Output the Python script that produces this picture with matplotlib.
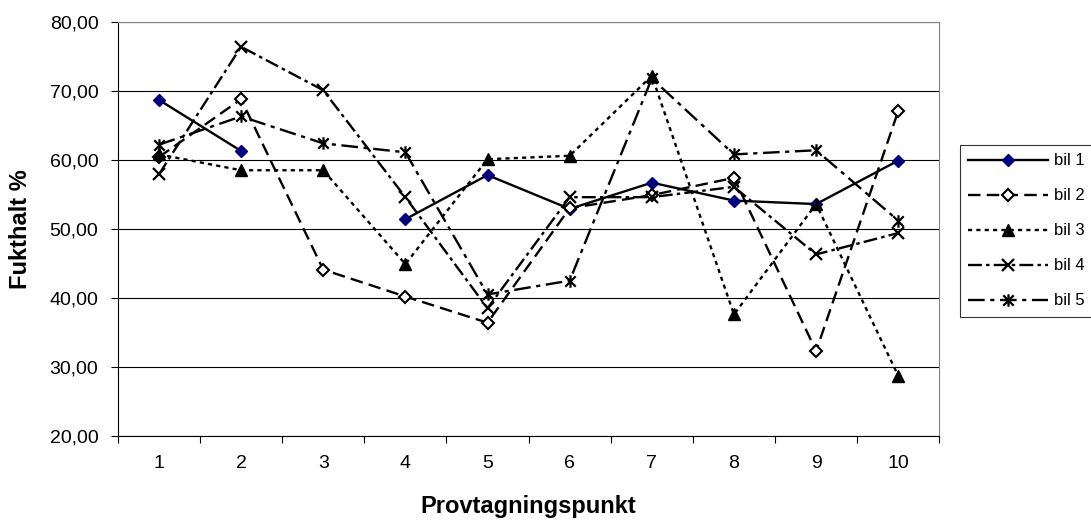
import numpy as np
import matplotlib.pyplot as plt
from matplotlib.path import Path
from matplotlib.ticker import FuncFormatter, MultipleLocator

plt.rcParams['font.family'] = ['Liberation Sans', 'DejaVu Sans']
plt.rcParams['lines.scale_dashes'] = False

# Fukthalt per provtagningspunkt och bil
punkter = np.arange(1, 11)
bil1 = [68.7, 61.3, np.nan, 51.4, 57.8, 52.9, 56.7, 54.1, 53.6, 59.9]
bil2 = [60.4, 68.8, 44.1, 40.2, 36.4, 53.0, 54.9, 57.4, 32.3, 67.1]
bil3 = [60.8, 58.5, 58.5, 44.9, 60.1, 60.6, 72.2, 37.6, 53.6, 28.7]
bil4 = [57.9, 76.4, 70.1, 54.6, 38.5, 54.6, 54.6, 56.1, 46.3, 49.4]
bil5 = [62.2, 66.3, 62.4, 61.1, 40.5, 42.5, 71.8, 60.8, 61.4, 51.2]
namn = ["bil 1", "bil 2", "bil 3", "bil 4", "bil 5"]

# Excel-style star: an X with a vertical bar through it
stjarna = Path([(-1, -1), (1, 1), (-1, 1), (1, -1), (0, -1.2), (0, 1.2)],
               [Path.MOVETO, Path.LINETO] * 3)

stilar = [
    dict(ls='-', marker='D', ms=6.5, mfc='#000080', mec='#000080'),
    dict(ls=(0, (9, 4.5)), marker='D', ms=6.5, mfc='white', mec='black', mew=1.5),
    dict(ls=(0, (3, 3)), marker='^', ms=9, mfc='black', mec='black'),
    dict(ls=(0, (10, 3, 2.5, 3)), marker='x', ms=9, mec='black', mew=1.6),
    dict(ls=(0, (12, 4, 3, 4)), marker=stjarna, ms=9, mec='black', mew=1.6),
]

fig = plt.figure(figsize=(10.91, 5.22), dpi=100)
ax = fig.add_axes([0.108, 0.165, 0.753, 0.793])

for serie, etikett, stil in zip([bil1, bil2, bil3, bil4, bil5], namn, stilar):
    ax.plot(punkter, serie, color='black', lw=1.7, label=etikett, **stil)

ax.set_xlim(0.5, 10.5)
ax.set_ylim(20, 80)
ax.yaxis.set_major_locator(MultipleLocator(10))
ax.yaxis.set_major_formatter(FuncFormatter(lambda v, _: f"{v:.2f}".replace('.', ',')))
ax.set_xticks(punkter)
ax.set_xticks(np.arange(0.5, 11, 1), minor=True)
ax.tick_params(axis='x', which='major', length=0, pad=14, labelsize=14)
ax.tick_params(axis='x', which='minor', length=5, width=0.8, direction='out')
ax.tick_params(axis='y', length=5, width=0.8, pad=9, labelsize=14)

ax.grid(axis='y', color='black', lw=0.8)
ax.set_axisbelow(True)
for side in ['top', 'right']:
    ax.spines[side].set_color('#808080')
for spine in ax.spines.values():
    spine.set_linewidth(0.8)

ax.set_xlabel("Provtagningspunkt", fontsize=17, fontweight='bold')
ax.set_ylabel("Fukthalt %", fontsize=17, fontweight='bold')
ax.xaxis.set_label_coords(0.5, -0.142)
ax.yaxis.set_label_coords(-0.104, 0.5)

leg = fig.legend(loc='upper left', bbox_to_anchor=(960 / 1091, 1 - 145 / 522),
                 fontsize=12, frameon=True, fancybox=False, edgecolor='black',
                 handlelength=4.8, handletextpad=0.35, labelspacing=1.2,
                 borderpad=0.5, borderaxespad=0)
leg.get_frame().set_linewidth(0.8)

fig.savefig("out.png", dpi=100)
